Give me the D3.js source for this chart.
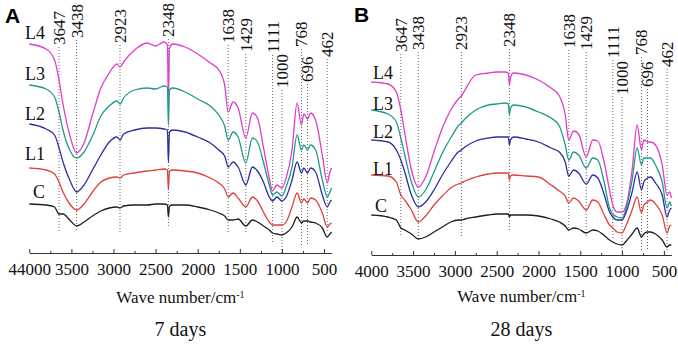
<!DOCTYPE html>
<html>
<head>
<meta charset="utf-8">
<script src="https://cdn.jsdelivr.net/npm/d3@7"></script>
<style>
  body { margin: 0; background: #fff; }
  svg { display: block; }
</style>
</head>
<body>
<div id="chart"></div>
<script>
// wavenumber grid (cm-1) shared by every spectrum
const wavenumbers = [4000, 3800, 3700, 3647, 3600, 3520, 3438, 3350, 3250, 3150,
  3050, 2960, 2923, 2880, 2750, 2600, 2500, 2400, 2360, 2348,
  2335, 2300, 2150, 2000, 1850, 1750, 1680, 1638, 1580, 1520,
  1429, 1350, 1290, 1220, 1150, 1111, 1060, 1000, 950, 880,
  820, 768, 740, 696, 660, 600, 520, 462, 430, 410];

const seriesNames = ["L4", "L3", "L2", "L1", "C"];
const seriesColors = ["#e03ccd", "#1f9a8b", "#2b2f9e", "#e0403c", "#1e1e1e"];

// transmittance, stacked, arbitrary units - 7 days
const d7_L4 = [211,206,195,175,151,120,102,112,140,167, 182,191,188,193,205,212,209,213,210,155,
  207,211,208,201,192,185,170,143,153,147, 117,142,137,108,77,64,70,67,77,105,
  152,130,141,136,142,135,100,72,83,87];
const d7_L3 = [170,166,158,143,125,105,97,103,119,139, 149,154,151,157,165,167,166,169,168,130,
  165,167,163,156,149,140,129,115,123,118, 92,117,113,93,70,60,63,59,68,88,
  120,105,110,105,110,105,75,58,63,67];
const d7_L2 = [131,126,120,107,93,75,63,70,85,100, 113,118,115,121,125,127,127,126,125,93,
  123,125,123,118,112,105,99,88,93,88, 70,88,84,73,58,54,58,54,58,75,
  93,82,87,82,87,83,60,48,53,55];
const d7_L1 = [87,85,81,73,63,51,45,51,63,73, 77,78,77,80,82,84,85,86,85,65,
  84,85,84,82,77,72,66,58,62,57, 48,58,54,43,33,30,30,30,33,48,
  62,52,56,52,57,55,42,28,31,32];
const d7_C = [51,50,48,41,41,35,29,33,39,44, 47,48,47,49,50,50,51,51,50,38,
  49,50,50,48,45,42,39,35,35,36, 29,35,33,29,25,22,21,20,22,28,
  38,32,34,34,33,32,27,18,21,23];

// 28 days
const d28_L4 = [173,171,163,145,122,85,68,78,103,127, 145,156,159,165,180,182,183,183,182,170,
  177,182,180,175,167,159,140,115,124,121, 98,115,114,95,65,50,43,43,50,85,
  130,105,115,113,113,110,90,60,63,57];
const d28_L3 = [145,141,133,117,100,73,58,65,83,102, 117,129,132,136,145,150,151,152,151,140,
  147,150,148,143,137,129,110,95,103,100, 87,97,95,75,47,41,38,37,47,75,
  107,90,97,97,97,90,73,47,53,49];
const d28_L2 = [115,113,105,95,83,60,48,53,65,80, 93,103,105,108,114,117,118,118,118,110,
  115,118,116,113,107,103,93,79,85,82, 71,80,77,62,43,38,35,35,43,63,
  83,65,73,77,78,72,60,38,45,47];
const d28_L1 = [80,79,73,60,55,45,33,39,50,59, 67,71,72,74,78,81,82,82,82,75,
  79,80,79,78,70,64,59,52,57,54, 45,55,53,41,30,27,23,22,30,45,
  58,42,50,53,55,51,40,22,29,30];
const d28_C = [40,38,35,27,25,21,16,18,23,28, 33,35,35,36,38,40,41,41,41,38,
  40,40,40,39,36,33,29,25,27,26, 22,25,24,20,15,13,11,10,14,21,
  27,18,21,23,23,21,15,8,10,10];

const peaks = [3647, 3438, 2923, 2348, 1638, 1429, 1111, 1000, 768, 696, 462];
const tickValues = [4000, 3500, 3000, 2500, 2000, 1500, 1000, 500];
const minorTicks = [3750, 3250, 2750, 2250, 1750, 1250, 750];
const tickLabels7 = ["44000", "3500", "3000", "2500", "2000", "1500", "1000", "500"];
const tickLabels28 = ["4000", "3500", "3000", "2500", "2000", "1500", "1000", "500"];

const panels = [
  { letter: "A", caption: "7 days", series: [d7_L4, d7_L3, d7_L2, d7_L1, d7_C], ticks: tickLabels7,
    left: 29.3, right: 331.6, axisY: 253, titleY: 303, letterX: 5, letterY: 23,
    nameX: [25, 25, 25, 25, 33], nameY: [39, 80, 120, 160, 198],
    peakLabelY: [45, 38, 43, 37, 43, 52, 53, 88, 47, 82, 57],
    peakLineEnd: [232, 232, 232, 228, 232, 232, 242, 253, 245, 245, 233] },
  { letter: "B", caption: "28 days", series: [d28_L4, d28_L3, d28_L2, d28_L1, d28_C], ticks: tickLabels28,
    left: 371.3, right: 671.4, axisY: 255, titleY: 302, letterX: 354, letterY: 22,
    nameX: [373, 373, 373, 373, 375], nameY: [79, 110, 138, 175, 212],
    peakLabelY: [52, 50, 50, 47, 48, 50, 58, 95, 55, 87, 67],
    peakLineEnd: [235, 240, 237, 230, 233, 237, 240, 255, 250, 250, 250] }
];

const W = 678, H = 344;
const serif = "Liberation Serif";

const svg = d3.select("#chart").append("svg")
  .attr("width", W)
  .attr("height", H)
  .style("font-family", serif);

svg.append("rect").attr("width", W).attr("height", H).attr("fill", "#fff");

panels.forEach(function(p) {
  const x = d3.scaleLinear().domain([4000, 410]).range([p.left, p.right]);
  const y = d3.scaleLinear().domain([0, 240]).range([255, 15]);
  const g = svg.append("g");

  // dotted peak markers
  peaks.forEach(function(wn, i) {
    g.append("line")
      .attr("x1", x(wn)).attr("x2", x(wn))
      .attr("y1", p.peakLabelY[i] + 2).attr("y2", p.peakLineEnd[i])
      .attr("stroke", "#666")
      .attr("stroke-width", 1)
      .attr("stroke-dasharray", "1,2");

    g.append("text")
      .attr("transform", "translate(" + x(wn) + "," + p.peakLabelY[i] + ") rotate(-90)")
      .attr("dy", "0.35em")
      .attr("text-anchor", "start")
      .style("font-family", serif)
      .style("font-size", "17px")
      .attr("fill", "#111")
      .text(wn);
  });

  // spectra
  const line = d3.line()
    .x(function(d) { return x(d[0]); })
    .y(function(d) { return y(d[1]); })
    .curve(d3.curveMonotoneX);

  p.series.forEach(function(vals, i) {
    const pts = wavenumbers.map(function(wn, k) { return [wn, vals[k]]; });
    g.append("path")
      .datum(pts)
      .attr("fill", "none")
      .attr("stroke", seriesColors[i])
      .attr("stroke-width", 1.3)
      .attr("stroke-linejoin", "round")
      .attr("d", line);

    g.append("text")
      .attr("x", p.nameX[i])
      .attr("y", p.nameY[i])
      .attr("text-anchor", "start")
      .style("font-family", serif)
      .style("font-size", "18px")
      .attr("fill", "#111")
      .text(seriesNames[i]);
  });

  // x axis, ticks pointing up
  const axis = g.append("g")
    .attr("transform", "translate(0," + p.axisY + ")")
    .call(d3.axisBottom(x)
      .tickValues(tickValues)
      .tickSizeInner(-4)
      .tickSizeOuter(0)
      .tickPadding(10)
      .tickFormat(function(d, i) { return p.ticks[i]; }));
  axis.select(".domain").attr("stroke", "#333");
  axis.selectAll(".tick line").attr("stroke", "#333");
  axis.selectAll("text")
    .style("font-family", serif)
    .style("font-size", "17px")
    .attr("fill", "#111");

  g.append("g")
    .attr("transform", "translate(0," + p.axisY + ")")
    .call(d3.axisBottom(x).tickValues(minorTicks).tickSize(-2).tickFormat(""))
    .call(function(s) { s.select(".domain").remove(); })
    .selectAll("line").attr("stroke", "#333");

  // axis title
  const cx = (p.left + p.right) / 2;
  const t = g.append("text")
    .attr("x", cx)
    .attr("y", p.titleY)
    .attr("text-anchor", "middle")
    .style("font-family", serif)
    .style("font-size", "17px")
    .attr("fill", "#111");
  t.append("tspan").text("Wave number/cm");
  t.append("tspan")
    .attr("baseline-shift", "super")
    .style("font-size", "10px")
    .text("-1");

  g.append("text")
    .attr("x", cx)
    .attr("y", 336)
    .attr("text-anchor", "middle")
    .style("font-family", serif)
    .style("font-size", "20px")
    .attr("fill", "#111")
    .text(p.caption);

  g.append("text")
    .attr("x", p.letterX)
    .attr("y", p.letterY)
    .style("font-family", "Liberation Sans")
    .style("font-weight", "bold")
    .style("font-size", "21px")
    .attr("fill", "#000")
    .text(p.letter);
});
</script>
</body>
</html>
